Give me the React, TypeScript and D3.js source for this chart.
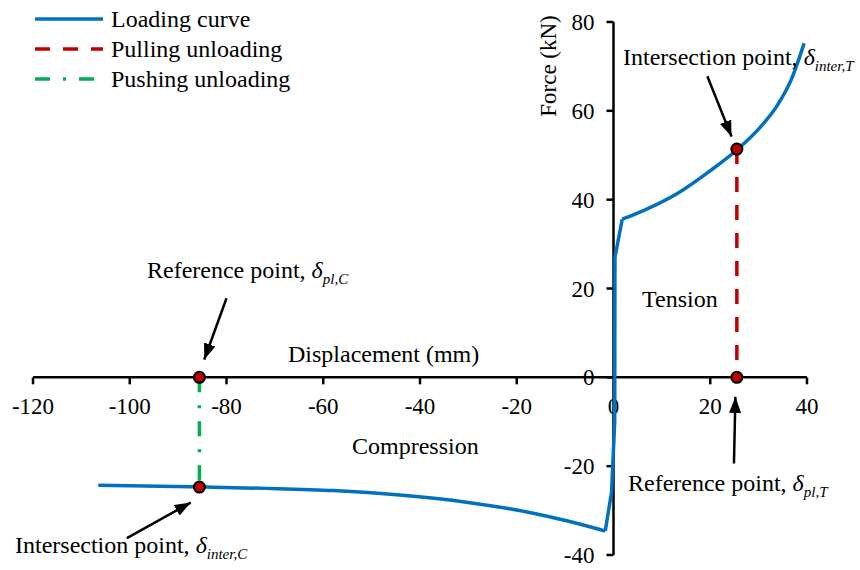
import React from "react";
import * as d3 from "d3";

// ---- data ----
const loadX = [-106.5, -84.1, -71.7, -57.9, -44.2, -30.4, -16.6, -9.7, -1.7, -0.4, 0.25, 0.3, 1.8, 6.3, 13.2, 20.1, 25.6, 30.4, 33.9, 36.7, 39.4];
const loadY = [-24.3, -24.7, -25.0, -25.5, -26.5, -28.1, -30.6, -32.3, -34.6, -25.8, -10, 27.0, 35.6, 37.6, 41.4, 46.6, 51.3, 56.4, 61.3, 66.9, 75.2];
const pullX = [25.5, 25.5];
const pullY = [51.4, 0];
const pushX = [-85.6, -85.6];
const pushY = [0, -24.7];
const dotX = [-85.6, -85.6, 25.5, 25.5];
const dotY = [0, -24.7, 51.4, 0];
const xTicks = [-120, -100, -80, -60, -40, -20, 0, 20, 40];
const yTicks = [-40, -20, 0, 20, 40, 60, 80];
const legendLabels = ["Loading curve", "Pulling unloading", "Pushing unloading"];
// arrows: [tailX, tailY, tipX, tipY] in data units
const arrows = [
  [-80.0, 17.8, -84.6, 4.0],
  [-100.6, -36.2, -87.4, -28.2],
  [19.4, 67.8, 24.4, 54.2],
  [24.9, -19.4, 25.2, -4.4],
];

const FONT = '"Liberation Serif", "Times New Roman", "DejaVu Serif", serif';
const BLUE = "#0070c0";
const RED = "#c00000";
const GREEN = "#00b050";

export default function App() {
  const x = d3.scaleLinear().domain([-120, 40]).range([33, 807]);
  const y = d3.scaleLinear().domain([-40, 80]).range([555, 22]);
  const seg = (from: number, to: number, curve: d3.CurveFactory) => {
    const idx = d3.range(from, to + 1);
    return d3
      .line<number>()
      .x((i) => x(loadX[i]))
      .y((i) => y(loadY[i]))
      .curve(curve)(idx) as string;
  };
  const lineGen = (xs: number[], ys: number[]) =>
    d3
      .line<number>()
      .x((_, i) => x(xs[i]))
      .y((_, i) => y(ys[i]))(xs) as string;

  const legendDash = [undefined, "15,13", "15,13,3,13"];
  const legendColor = [BLUE, RED, GREEN];
  const ts = { fontFamily: FONT };

  const sub = (main: string, s: string) => (
    <>
      {main}
      <tspan fontStyle="italic">δ</tspan>
      <tspan fontStyle="italic" fontSize={15} dy={6}>
        {s}
      </tspan>
    </>
  );

  const nCompEnd = 8; // vertex index
  const nTenStart = 12;

  return (
    <div style={{ position: "fixed", left: 0, top: 0 }}>
      <svg width={860} height={570} style={{ display: "block", background: "#fff", fontFamily: FONT }}>
        <defs>
          <marker id="ah" viewBox="0 0 16 12" refX="16" refY="6" markerWidth="16" markerHeight="12" markerUnits="userSpaceOnUse" orient="auto">
            <path d="M0,0 L16,6 L0,12 Z" fill="#000" />
          </marker>
        </defs>

        {/* x axis */}
        <line x1={x(-120)} x2={x(40)} y1={y(0)} y2={y(0)} stroke="#000" strokeWidth={2.5} />
        {xTicks.map((t) => (
          <g key={"xt" + t}>
            {t !== 0 && <line x1={x(t)} x2={x(t)} y1={y(0)} y2={y(0) + 7} stroke="#000" strokeWidth={2.5} />}
            <text x={x(t)} y={y(0) + 37} textAnchor="middle" fontSize={23} fill="#000" style={ts}>
              {t}
            </text>
          </g>
        ))}
        {/* y axis */}
        <line x1={x(0)} x2={x(0)} y1={y(80)} y2={y(-40)} stroke="#000" strokeWidth={2.5} />
        {yTicks.map((t) => (
          <g key={"yt" + t}>
            <line x1={x(0) - 7} x2={x(0)} y1={y(t)} y2={y(t)} stroke="#000" strokeWidth={2.5} />
            <text x={x(0) - 19} y={y(t) + 8} textAnchor="end" fontSize={23} fill="#000" style={ts}>
              {t}
            </text>
          </g>
        ))}
        <text transform={`translate(556,66) rotate(-90)`} textAnchor="middle" fontSize={23} fill="#000" style={ts}>
          Force (kN)
        </text>
        <text x={288} y={362} fontSize={24} fill="#000" style={ts}>
          Displacement (mm)
        </text>
        <text x={352} y={454} fontSize={24} fill="#000" style={ts}>
          Compression
        </text>
        <text x={642} y={307} fontSize={24} fill="#000" style={ts}>
          Tension
        </text>

        {/* series */}
        <path d={seg(0, nCompEnd, d3.curveMonotoneX)} fill="none" stroke={BLUE} strokeWidth={3.5} strokeLinejoin="round" />
        <path d={seg(nCompEnd, nTenStart, d3.curveLinear)} fill="none" stroke={BLUE} strokeWidth={3.5} strokeLinejoin="round" />
        <path d={seg(nTenStart, loadX.length - 1, d3.curveMonotoneX)} fill="none" stroke={BLUE} strokeWidth={3.5} strokeLinejoin="round" />
        <path d={lineGen(pullX, pullY)} fill="none" stroke={RED} strokeWidth={3.5} strokeDasharray="15,13" />
        <path d={lineGen(pushX, pushY)} fill="none" stroke={GREEN} strokeWidth={3.5} strokeDasharray="15,13,3,13" />
        {dotX.map((d, i) => (
          <circle key={"dot" + i} cx={x(d)} cy={y(dotY[i])} r={5.5} fill={RED} stroke="#000" strokeWidth={2} />
        ))}

        {/* arrows */}
        {arrows.map((a, i) => (
          <line key={"ar" + i} x1={x(a[0])} y1={y(a[1])} x2={x(a[2])} y2={y(a[3])} stroke="#000" strokeWidth={2.5} markerEnd="url(#ah)" />
        ))}

        {/* annotations */}
        <text x={147} y={278} fontSize={24} fill="#000" style={ts}>
          {sub("Reference point, ", "pl,C")}
        </text>
        <text x={15} y={553} fontSize={24} fill="#000" style={ts}>
          {sub("Intersection point, ", "inter,C")}
        </text>
        <text x={623} y={65} fontSize={24} fill="#000" style={ts}>
          {sub("Intersection point, ", "inter,T")}
        </text>
        <text x={628} y={491} fontSize={24} fill="#000" style={ts}>
          {sub("Reference point, ", "pl,T")}
        </text>

        {/* legend */}
        {legendLabels.map((l, i) => (
          <g key={"lg" + i}>
            <line x1={35} x2={103} y1={19 + i * 30} y2={19 + i * 30} stroke={legendColor[i]} strokeWidth={3.5} strokeDasharray={legendDash[i]} />
            <text x={111} y={27 + i * 30} fontSize={24} fill="#000" style={ts}>
              {l}
            </text>
          </g>
        ))}
      </svg>
    </div>
  );
}
